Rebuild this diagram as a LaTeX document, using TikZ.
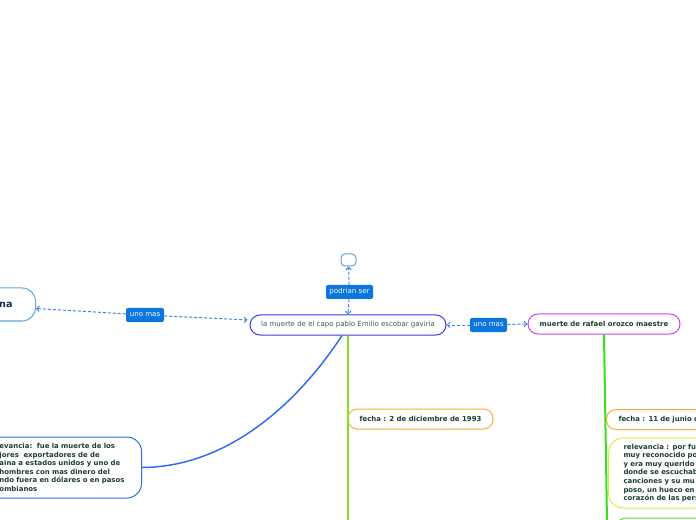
\documentclass[tikz,border=0pt]{standalone}
\usepackage{fontspec}
\setmainfont{DejaVu Sans}
\usetikzlibrary{arrows.meta}

\definecolor{txtgreen}{HTML}{1B3D2E}
\definecolor{lblblue}{HTML}{0B75E0}
\definecolor{relblue}{HTML}{3A88E6}
\definecolor{mainborder}{HTML}{3B3BF0}
\definecolor{rafaelborder}{HTML}{CC44EE}
\definecolor{fechaorange}{HTML}{FFAA33}
\definecolor{relyellow}{HTML}{D4EE44}
\definecolor{bottomgreen}{HTML}{55DD33}
\definecolor{pablogreen}{HTML}{8EDD22}
\definecolor{rafaelgreen}{HTML}{3CDD1C}
\definecolor{lightblue}{HTML}{5AA5E0}
\definecolor{curveblue}{HTML}{2D6CF0}
\definecolor{navy}{HTML}{14285A}

\begin{document}
\begin{tikzpicture}[x=0.75pt,y=-0.75pt,
    topic/.style={draw, line width=0.75pt, text=txtgreen, inner sep=0pt, font=\fontsize{5.2}{6.45}\selectfont\bfseries},
    relation/.style={draw=relblue, line width=0.75pt, dash pattern=on 2.25pt off 1.5pt, -{Straight Barb[length=2pt,width=4pt]}},
    tag/.style={fill=lblblue, text=white, rounded corners=1.5pt, inner sep=0pt, minimum height=10.5pt, font=\fontsize{5.3}{6}\selectfont}]
    \useasboundingbox (0,0) rectangle (696,520);
    \clip (0,0) rectangle (696,520);

    \node[topic, draw=mainborder, rounded corners=7.5pt, minimum width=147pt, minimum height=15pt, font=\fontsize{5.25}{6.5}\selectfont, text=txtgreen!85] (muerte) at (348,325) {la muerte de el capo pablo Emilio escobar gaviria};
    \node[topic, draw=rafaelborder, rounded corners=7.5pt, minimum width=114pt, minimum height=15pt] (rafael) at (604,324) {muerte de rafael orozco maestre};
    \node[draw=lightblue, line width=0.75pt, rounded corners=3pt, minimum width=11.25pt, minimum height=9pt] (vacio) at (348.5,260) {};
    \node[topic, draw=lightblue, text=navy, rounded corners=10pt, inner xsep=17.25pt, minimum height=24.75pt, anchor=east, font=\fontsize{7.2}{8}\selectfont\bfseries] (colombiana) at (36,304.5) {na};

    \node[topic, draw=fechaorange, rounded corners=7pt, minimum width=108.75pt, minimum height=15pt] (fechapablo) at (420.5,419) {fecha : 2 de diciembre de 1993};
    \node[topic, draw=fechaorange, rounded corners=7pt, inner xsep=9pt, minimum height=15pt, text width=150pt, align=left, anchor=west] (fecharafael) at (606,419.5) {fecha : 11 de junio d};
    \node[topic, draw=curveblue, rounded corners=11pt, inner xsep=10.5pt, text width=96pt, align=left, minimum height=45.75pt, anchor=east] (relpablo) at (142,467.5) {evancia:\ \ fue la muerte de los\\jores\ \ exportadores de de\\aina a estados unidos y uno de\\hombres con mas dinero del\\ndo fuera en dólares o en pasos\\ombianos};
    \node[topic, draw=relyellow, rounded corners=11pt, inner xsep=11.25pt, text width=150pt, align=left, minimum height=52.5pt, anchor=west] (relrafael) at (608,473) {relevancia : por fu\\muy reconocido po\\y era muy querido\\donde se escuchab\\canciones y su mu\\poso, un hueco en\\corazón de las pers};
    \node[draw=bottomgreen, line width=0.75pt, rounded corners=11pt, minimum width=150pt, minimum height=40pt, anchor=north west] (siguiente) at (612,517.5) {};

    \node[tag, minimum width=28.5pt] (unomasizq) at (145,315) {uno mas};
    \node[tag, minimum width=35.25pt] (podrian) at (349.5,292) {podrian ser};
    \node[tag, minimum width=27.75pt] (unomasder) at (488.5,325) {uno mas};

    \coordinate (pabloend) at (348,522);
    \coordinate (rafaelend) at (607,522);

    \draw[relation] (unomasizq) -- ([yshift=-3pt]colombiana.east);
    \draw[relation] (unomasizq) -- ([xshift=-1.5pt,yshift=3.75pt]muerte.west);
    \draw[relation] (podrian) -- (vacio.south);
    \draw[relation] (podrian) -- (muerte.north);
    \draw[relation] (unomasder) -- (muerte.east);
    \draw[relation] (unomasder) -- (rafael.west);

    \draw[pablogreen, line width=1.5pt] (muerte.south) -- (pabloend);
    \draw[rafaelgreen, line width=1.5pt] (rafael.south) -- (rafaelend);
    \draw[curveblue, line width=1.1pt] ([xshift=-4.5pt]muerte.south) .. controls (300,400) and (230,467) .. (relpablo.east);
\end{tikzpicture}
\end{document}
